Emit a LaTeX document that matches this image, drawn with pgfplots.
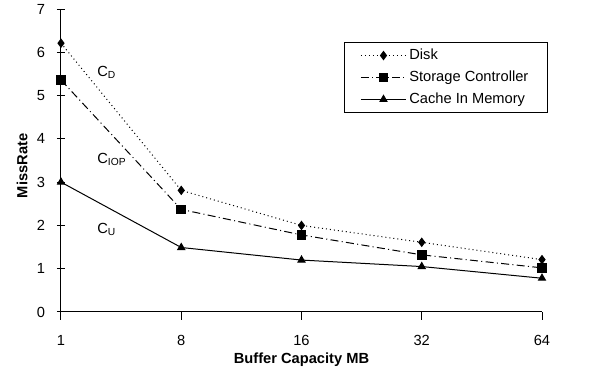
\documentclass[border=0pt]{standalone}
\usepackage{pgfplots}
\pgfplotsset{compat=1.18}
\usepackage{fontspec}
\setmainfont{Liberation Sans}
\begin{document}
\begin{tikzpicture}
\useasboundingbox (-45.75pt,-44.25pt) rectangle (404.25pt,234pt);
\begin{axis}[
  at={(0pt,0pt)}, anchor=south west,
  scale only axis,
  width=360.75pt, height=227.25pt,
  xmin=0, xmax=4, ymin=0, ymax=7,
  axis lines*=left,
  axis line style={black, line width=0.75pt},
  xtick={0,1,2,3,4},
  xticklabels={1,8,16,32,64},
  ytick={0,1,2,3,4,5,6,7},
  tick align=center,
  major tick length=6pt,
  tick style={black, line width=0.75pt},
  x tick style={yshift=-3pt},
  font=\fontsize{11}{13.2}\selectfont,
  /pgf/number format/assume math mode=true,
  xticklabel style={yshift=-11pt},
  yticklabel style={xshift=-5.5pt},
  xlabel={\bfseries Buffer Capacity MB},
  ylabel={\bfseries MissRate},
  xlabel style={at={(axis description cs:0.5,0)}, anchor=center, yshift=-36pt},
  ylabel style={at={(axis description cs:-0.081,0.482)}, anchor=center},
  legend cell align=left,
  legend style={at={(0.588,0.891)}, anchor=north west, draw=black, line width=0.75pt,
    fill=white, inner xsep=12pt, inner ysep=3pt, row sep=3pt,
    font=\fontsize{11}{13.2}\selectfont},
  legend image code/.code={\draw[mark repeat=2,mark phase=2] plot coordinates {(0pt,0pt)(17pt,0pt)(34pt,0pt)};},
]
\addplot[black, line width=0.75pt, dash pattern=on 0.75pt off 2.25pt,
  mark=diamond*, mark size=3pt, mark options={solid}]
  coordinates {(0,6.21) (1,2.81) (2,2.0) (3,1.61) (4,1.21)};
\addlegendentry{Disk}
\addplot[black, line width=0.75pt, dash pattern=on 6pt off 2.5pt on 0.75pt off 2.5pt,
  mark=square*, mark size=3.3pt, mark options={solid}]
  coordinates {(0,5.36) (1,2.37) (2,1.78) (3,1.32) (4,1.02)};
\addlegendentry{Storage Controller\hspace{8pt}}
\addplot[black, line width=0.75pt,
  mark=triangle*, mark size=3pt, mark options={solid}]
  coordinates {(0,3.0) (1,1.49) (2,1.2) (3,1.05) (4,0.78)};
\addlegendentry{Cache In Memory}
\node[anchor=west, inner sep=0pt] at (axis cs:0.30,5.54) {C\textsubscript{D}};
\node[anchor=west, inner sep=0pt] at (axis cs:0.30,3.53) {C\textsubscript{IOP}};
\node[anchor=west, inner sep=0pt] at (axis cs:0.30,1.91) {C\textsubscript{U}};
\end{axis}
\end{tikzpicture}
\end{document}
